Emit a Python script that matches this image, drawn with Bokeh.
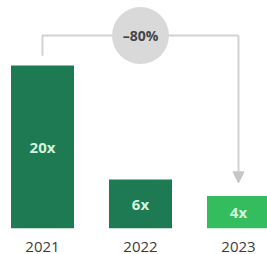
from bokeh.plotting import figure
from bokeh.models import Range1d, FixedTicker, Arrow, NormalHead, ColumnDataSource
from bokeh.core.properties import value
from bokeh.embed import file_html
from bokeh.resources import INLINE

years = ["2021", "2022", "2023"]
multiples = [20, 6, 4]
bar_labels = ["20x", "6x", "4x"]
bar_colors = ["#1e7a52", "#1e7a52", "#33bd5e"]

idx = list(range(len(years)))
change = (multiples[-1] - multiples[0]) / multiples[0] * 100
change_label = "\u2013%d%%" % abs(round(change))

p = figure(width=267, height=254, output_backend="svg", toolbar_location=None,
           x_range=Range1d(-0.4286, 2.296), y_range=Range1d(0, 27.98),
           min_border=0, outline_line_color=None)
p.background_fill_color = "white"
p.border_fill_color = "white"
p.grid.visible = False
p.yaxis.visible = False

src = ColumnDataSource(dict(x=idx, top=multiples, label=bar_labels, color=bar_colors,
                            mid=[m / 2 for m in multiples]))
p.vbar(x="x", top="top", bottom=0, width=0.643, fill_color="color", line_color=None, source=src)
p.text(x="x", y="mid", text="label", source=src, text_align="center", text_baseline="middle",
       text_font=value("Open Sans"), text_font_style="bold", text_font_size="15px",
       text_color="#d3f3da")

grey = "#d2d2d2"
top_y = max(multiples) * 1.184
p.line(x=[idx[0], idx[0], idx[-1]], y=[multiples[0] * 1.06, top_y, top_y],
       line_color=grey, line_width=2)
p.add_layout(Arrow(end=NormalHead(size=11, fill_color="#c6c6c6", line_color="#c6c6c6"),
                   x_start=idx[-1], y_start=top_y, x_end=idx[-1], y_end=multiples[-1] + 1.6,
                   line_color=grey, line_width=2))
mid_x = (idx[0] + idx[-1]) / 2
p.scatter(x=[mid_x], y=[top_y], size=57, marker="circle", fill_color="#d9d9d9", line_color=None)
p.text(x=[mid_x], y=[top_y], text=[change_label], text_align="center", text_baseline="middle",
       text_font=value("Open Sans"), text_font_style="bold", text_font_size="14px",
       text_color="#454545")

ax = p.xaxis[0]
ax.ticker = FixedTicker(ticks=idx)
ax.major_label_overrides = {i: y for i, y in zip(idx, years)}
ax.axis_line_color = None
ax.major_tick_line_color = None
ax.minor_tick_line_color = None
ax.major_label_standoff = 7
ax.major_label_text_font = "Open Sans"
ax.major_label_text_font_size = "15px"
ax.major_label_text_color = "#3c3c3c"

open("out.html", "w").write(file_html(p, INLINE))
